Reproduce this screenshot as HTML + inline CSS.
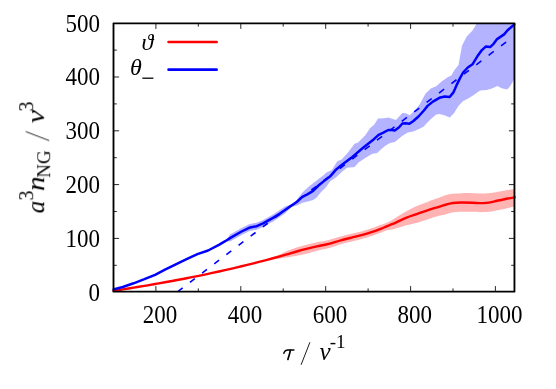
<!DOCTYPE html>
<html><head><meta charset="utf-8">
<style>
html,body{margin:0;padding:0;background:#fff;}
svg{display:block;}
text{font-family:"Liberation Serif",serif;fill:#000;}
.n{font-size:23.0px;}
.m{font-size:25px;font-style:italic;}
</style></head><body>
<svg width="556" height="389" viewBox="0 0 556 389">
<rect width="556" height="389" fill="#fff"/>
<defs><clipPath id="c"><rect x="113.5" y="23.3" width="400.95" height="268.37"/></clipPath>
<clipPath id="d"><rect x="112.3" y="22.400000000000002" width="403.35" height="270.17"/></clipPath></defs>
<g stroke="#000" stroke-width="0.85">
<line x1="155.9" y1="291.67" x2="155.9" y2="286.1"/><line x1="155.9" y1="23.3" x2="155.9" y2="28.9"/><line x1="198.3" y1="291.67" x2="198.3" y2="288.4"/><line x1="198.3" y1="23.3" x2="198.3" y2="26.6"/><line x1="240.8" y1="291.67" x2="240.8" y2="286.1"/><line x1="240.8" y1="23.3" x2="240.8" y2="28.9"/><line x1="283.2" y1="291.67" x2="283.2" y2="288.4"/><line x1="283.2" y1="23.3" x2="283.2" y2="26.6"/><line x1="325.7" y1="291.67" x2="325.7" y2="286.1"/><line x1="325.7" y1="23.3" x2="325.7" y2="28.9"/><line x1="368.1" y1="291.67" x2="368.1" y2="288.4"/><line x1="368.1" y1="23.3" x2="368.1" y2="26.6"/><line x1="410.6" y1="291.67" x2="410.6" y2="286.1"/><line x1="410.6" y1="23.3" x2="410.6" y2="28.9"/><line x1="453.0" y1="291.67" x2="453.0" y2="288.4"/><line x1="453.0" y1="23.3" x2="453.0" y2="26.6"/><line x1="495.4" y1="291.67" x2="495.4" y2="286.1"/><line x1="495.4" y1="23.3" x2="495.4" y2="28.9"/><line x1="113.5" y1="265.3" x2="116.8" y2="265.3"/><line x1="514.45" y1="265.3" x2="511.2" y2="265.3"/><line x1="113.5" y1="238.4" x2="119.1" y2="238.4"/><line x1="514.45" y1="238.4" x2="508.9" y2="238.4"/><line x1="113.5" y1="211.5" x2="116.8" y2="211.5"/><line x1="514.45" y1="211.5" x2="511.2" y2="211.5"/><line x1="113.5" y1="184.6" x2="119.1" y2="184.6"/><line x1="514.45" y1="184.6" x2="508.9" y2="184.6"/><line x1="113.5" y1="157.7" x2="116.8" y2="157.7"/><line x1="514.45" y1="157.7" x2="511.2" y2="157.7"/><line x1="113.5" y1="130.8" x2="119.1" y2="130.8"/><line x1="514.45" y1="130.8" x2="508.9" y2="130.8"/><line x1="113.5" y1="103.9" x2="116.8" y2="103.9"/><line x1="514.45" y1="103.9" x2="511.2" y2="103.9"/><line x1="113.5" y1="77.0" x2="119.1" y2="77.0"/><line x1="514.45" y1="77.0" x2="508.9" y2="77.0"/><line x1="113.5" y1="50.1" x2="116.8" y2="50.1"/><line x1="514.45" y1="50.1" x2="511.2" y2="50.1"/>
</g>
<g clip-path="url(#c)">
<path d="M266.00 259.90 C268.40 258.95 277.10 255.60 280.40 254.20 C283.70 252.80 283.10 252.62 285.80 251.50 C288.50 250.38 293.00 248.67 296.60 247.50 C300.20 246.33 303.82 245.40 307.40 244.50 C310.98 243.60 314.52 242.87 318.10 242.10 C321.68 241.33 325.12 240.83 328.90 239.90 C332.68 238.97 337.02 237.56 340.80 236.55 C344.58 235.53 348.00 234.69 351.60 233.79 C355.20 232.89 358.82 232.14 362.40 231.14 C365.98 230.14 370.05 228.80 373.10 227.78 C376.15 226.77 378.53 225.82 380.70 225.05 C382.87 224.27 384.55 223.76 386.10 223.12 C387.65 222.48 388.38 222.11 390.00 221.20 C391.62 220.29 393.03 219.33 395.80 217.67 C398.57 216.01 403.00 213.20 406.60 211.22 C410.20 209.23 413.82 207.36 417.40 205.76 C420.98 204.17 424.52 202.97 428.10 201.65 C431.68 200.33 436.02 198.90 438.90 197.85 C441.78 196.80 443.42 196.00 445.40 195.35 C447.38 194.70 448.10 194.32 450.80 193.95 C453.50 193.58 458.00 193.28 461.60 193.15 C465.20 193.02 469.20 193.08 472.40 193.15 C475.60 193.22 478.12 193.53 480.80 193.55 C483.48 193.57 486.32 193.42 488.50 193.25 C490.68 193.08 491.58 192.92 493.90 192.55 C496.22 192.18 499.20 191.58 502.40 191.05 C505.60 190.52 510.83 189.72 513.10 189.35 C515.37 188.98 515.52 188.93 516.00 188.85 L516.00 206.05 C515.52 206.15 515.37 206.10 513.10 206.65 C510.83 207.20 505.60 208.62 502.40 209.35 C499.20 210.08 496.22 210.63 493.90 211.05 C491.58 211.47 490.68 211.65 488.50 211.85 C486.32 212.05 483.48 212.25 480.80 212.25 C478.12 212.25 475.60 211.95 472.40 211.85 C469.20 211.75 464.30 211.63 461.60 211.65 C458.90 211.67 458.00 211.75 456.20 211.95 C454.40 212.15 452.60 212.43 450.80 212.85 C449.00 213.27 447.38 213.95 445.40 214.45 C443.42 214.95 441.78 215.07 438.90 215.85 C436.02 216.63 431.68 218.00 428.10 219.15 C424.52 220.30 420.98 221.75 417.40 222.76 C413.82 223.77 410.20 224.27 406.60 225.22 C403.00 226.17 398.50 227.71 395.80 228.47 C393.10 229.23 392.02 229.44 390.40 229.80 C388.78 230.16 387.72 230.14 386.10 230.62 C384.48 231.09 382.87 231.85 380.70 232.65 C378.53 233.44 376.15 234.39 373.10 235.38 C370.05 236.38 365.98 237.64 362.40 238.64 C358.82 239.64 355.20 240.47 351.60 241.39 C348.00 242.31 344.58 243.03 340.80 244.15 C337.02 245.26 332.68 247.06 328.90 248.10 C325.12 249.14 321.68 249.48 318.10 250.40 C314.52 251.32 310.98 252.70 307.40 253.60 C303.82 254.50 300.20 255.13 296.60 255.80 C293.00 256.47 288.50 257.15 285.80 257.60 C283.10 258.05 283.70 258.12 280.40 258.50 C277.10 258.88 268.40 259.67 266.00 259.90 Z" fill="#ffb3b3"/>
<polygon points="226.0,240.8 230.0,234.6 241.6,228.0 249.1,224.3 256.7,222.7 263.1,219.9 273.9,213.9 285.0,206.6 291.6,204.2 294.8,202.3 302.4,192.5 307.8,187.6 313.1,183.3 318.5,178.9 323.9,175.1 326.5,172.6 331.9,169.9 337.3,161.2 341.6,159.6 348.0,152.6 354.5,143.8 357.8,142.8 363.1,137.4 365.3,135.2 370.0,128.2 374.3,124.4 378.1,118.4 384.0,118.2 388.3,117.4 395.9,120.1 402.4,113.0 405.6,113.3 409.9,115.2 415.3,109.8 419.6,104.4 421.5,101.1 425.4,93.8 430.8,88.4 436.2,86.3 441.6,81.4 448.0,77.1 451.3,75.5 454.5,70.1 458.5,65.1 462.0,45.8 466.7,36.5 472.5,30.6 476.0,24.8 477.0,22.1 516.0,22.1 516.0,77.1 514.5,78.6 513.0,81.3 510.3,86.1 507.1,89.4 501.7,88.3 497.4,86.1 492.0,88.6 486.6,89.9 480.1,90.5 472.6,95.8 468.1,98.6 462.8,101.3 458.4,106.1 454.1,113.1 449.8,117.5 444.4,115.3 439.0,114.0 435.8,114.8 430.4,119.6 425.0,125.0 423.9,126.5 418.5,129.2 413.1,131.4 407.8,132.5 402.4,135.7 394.8,142.1 390.0,143.1 385.3,145.8 380.0,150.2 377.2,152.9 371.8,154.0 365.3,157.9 358.8,162.2 354.5,167.0 347.0,167.7 341.6,172.0 336.2,177.3 330.0,181.6 326.1,187.0 320.7,192.4 316.4,197.8 313.1,200.0 307.8,201.6 302.4,202.7 297.0,205.4 291.6,206.9 285.0,213.6 273.9,220.9 263.1,226.9 256.7,229.7 249.1,231.3 241.6,235.0 230.0,241.6 226.0,240.8" fill="#b3b3ff"/>
</g>
<g clip-path="url(#d)">
<line x1="177.8" y1="291.6" x2="330" y2="175.87" stroke="#0000ff" stroke-width="1.6" stroke-dasharray="6.1 9.16"/>
<line x1="339.8" y1="168.5" x2="512" y2="37.56" stroke="#0000ff" stroke-width="1.6" stroke-dasharray="6.4 9.18"/>
<path d="M113.50 290.87 C113.62 290.85 112.65 291.00 114.20 290.76 C115.75 290.52 119.57 289.93 122.80 289.42 C126.03 288.90 130.00 288.27 133.60 287.68 C137.20 287.09 140.82 286.49 144.40 285.89 C147.98 285.28 151.67 284.65 155.10 284.05 C158.53 283.45 162.18 282.80 165.00 282.29 C167.82 281.78 170.20 281.34 172.00 281.01 C173.80 280.67 173.37 280.76 175.80 280.30 C178.23 279.83 183.00 278.93 186.60 278.23 C190.20 277.52 193.82 276.80 197.40 276.07 C200.98 275.34 204.52 274.61 208.10 273.85 C211.68 273.09 215.12 272.36 218.90 271.52 C222.68 270.68 227.02 269.70 230.80 268.83 C234.58 267.96 238.00 267.15 241.60 266.28 C245.20 265.42 248.82 264.53 252.40 263.63 C255.98 262.73 259.52 261.82 263.10 260.88 C266.68 259.94 270.12 259.02 273.90 257.99 C277.68 256.96 282.02 255.78 285.80 254.70 C289.58 253.62 293.00 252.52 296.60 251.50 C300.20 250.48 303.82 249.50 307.40 248.60 C310.98 247.70 314.52 246.88 318.10 246.10 C321.68 245.32 325.12 244.86 328.90 243.90 C332.68 242.94 337.02 241.40 340.80 240.35 C344.58 239.29 348.00 238.51 351.60 237.59 C355.20 236.67 358.82 235.84 362.40 234.84 C365.98 233.84 370.05 232.58 373.10 231.58 C376.15 230.59 378.53 229.67 380.70 228.85 C382.87 228.02 384.55 227.26 386.10 226.62 C387.65 225.98 388.38 225.67 390.00 225.00 C391.62 224.33 393.03 223.80 395.80 222.57 C398.57 221.34 403.00 219.07 406.60 217.62 C410.20 216.17 413.82 215.12 417.40 213.86 C420.98 212.60 424.52 211.22 428.10 210.05 C431.68 208.88 436.02 207.73 438.90 206.85 C441.78 205.97 443.42 205.33 445.40 204.75 C447.38 204.17 449.00 203.68 450.80 203.35 C452.60 203.02 454.40 202.88 456.20 202.75 C458.00 202.62 458.90 202.55 461.60 202.55 C464.30 202.55 469.42 202.66 472.40 202.75 C475.38 202.84 477.20 203.07 479.50 203.10 C481.80 203.12 484.18 203.06 486.20 202.90 C488.22 202.74 489.80 202.51 491.60 202.15 C493.40 201.79 495.20 201.15 497.00 200.75 C498.80 200.35 500.60 200.12 502.40 199.75 C504.20 199.38 505.60 198.98 507.80 198.55 C510.00 198.12 514.30 197.38 515.60 197.15" fill="none" stroke="#ff0000" stroke-width="2.4" stroke-linejoin="round" stroke-linecap="round"/>
<polyline points="113.5,289.5 114.2,289.2 122.8,287.0 133.6,283.3 144.4,279.2 155.1,274.8 165.0,269.7 175.8,264.3 186.6,259.2 197.4,254.1 208.1,250.5 218.9,244.8 225.2,241.2 230.8,237.6 241.6,231.5 249.1,227.8 256.7,226.2 263.1,223.4 273.9,217.4 280.0,213.6 291.6,205.5 297.0,201.7 302.4,196.9 307.8,194.1 313.1,190.9 318.5,185.5 323.9,181.1 330.0,176.6 336.2,169.4 341.6,165.1 352.4,156.9 363.1,147.8 373.9,139.2 378.6,134.8 382.9,132.8 388.3,130.0 391.6,130.0 394.8,130.4 399.1,127.3 402.4,123.5 405.6,123.2 409.4,123.8 413.1,121.3 418.5,116.5 423.9,110.5 427.6,105.9 432.9,101.6 439.4,97.8 444.8,96.5 449.7,97.0 453.4,92.4 456.7,84.9 459.9,78.4 463.1,72.5 467.8,67.5 472.5,64.3 477.2,56.6 481.9,50.1 486.0,46.4 490.1,47.1 493.6,43.8 497.1,39.1 504.1,34.4 507.6,30.2 513.5,25.1 514.4,24.2" fill="none" stroke="#0000ff" stroke-width="2.5" stroke-linejoin="round" stroke-linecap="round"/>
</g>
<rect x="113.5" y="23.3" width="400.95" height="268.37" fill="none" stroke="#000" stroke-width="1.85" stroke-linejoin="round"/>
<line x1="168.6" y1="42.0" x2="216.6" y2="42.0" stroke="#ff0000" stroke-width="2.7" stroke-linecap="round"/>
<line x1="168.6" y1="69.7" x2="216.6" y2="69.7" stroke="#0000ff" stroke-width="2.7" stroke-linecap="round"/>
<g style="opacity:0.999">
<g class="n">
<text transform="translate(160.1,322.6) scale(1,1.05)" text-anchor="middle">200</text><text transform="translate(245.0,322.6) scale(1,1.05)" text-anchor="middle">400</text><text transform="translate(329.9,322.6) scale(1,1.05)" text-anchor="middle">600</text><text transform="translate(414.8,322.6) scale(1,1.05)" text-anchor="middle">800</text><text transform="translate(499.6,322.6) scale(1,1.05)" text-anchor="middle">1000</text>
<text transform="translate(99.9,300.5) scale(1,1.05)" text-anchor="end">0</text><text transform="translate(99.9,246.7) scale(1,1.05)" text-anchor="end">100</text><text transform="translate(99.9,192.9) scale(1,1.05)" text-anchor="end">200</text><text transform="translate(99.9,139.1) scale(1,1.05)" text-anchor="end">300</text><text transform="translate(99.9,85.3) scale(1,1.05)" text-anchor="end">400</text><text transform="translate(99.9,31.5) scale(1,1.05)" text-anchor="end">500</text>
</g>
<text class="m" x="153.4" y="49.5" text-anchor="end" style="font-size:24px">&#x3D1;</text>
<text class="m" x="141.7" y="75.4" text-anchor="end" style="font-size:24px">&#x3B8;</text>
<line x1="142.4" y1="78.2" x2="153.4" y2="78.2" stroke="#000" stroke-width="1.3"/>
<path d="M283.6 353.8 C284.4 351.3 285.8 350.1 288.0 350.1 L294.4 350.1" fill="none" stroke="#000" stroke-width="1.5"/>
<path d="M290.3 350.3 C289.9 353.5 288.7 356.5 287.9 359.4" fill="none" stroke="#000" stroke-width="1.7" stroke-linecap="round"/>
<line x1="301.1" y1="364.8" x2="309.9" y2="342.3" stroke="#000" stroke-width="0.9"/>
<text class="m" x="319.6" y="360">v</text>
<text x="329.8" y="348" style="font-size:19px;">-1</text>
<g transform="translate(44.2,213.3) rotate(-90)">
<text class="m" x="0" y="0">a</text>
<text x="12.7" y="-11.2" style="font-size:20px;">3</text>
<text class="m" transform="translate(22.3,0) scale(1.17,1)">n</text>
<text x="35.6" y="6.4" style="font-size:19px;">NG</text>
<line x1="72.7" y1="5" x2="81.7" y2="-18.4" stroke="#000" stroke-width="0.85"/>
<text class="m" transform="translate(89.9,0) scale(1.2,1)">v</text>
<text x="101.7" y="-11.2" style="font-size:20px;">3</text>
</g>
</g>
</svg>
</body></html>
